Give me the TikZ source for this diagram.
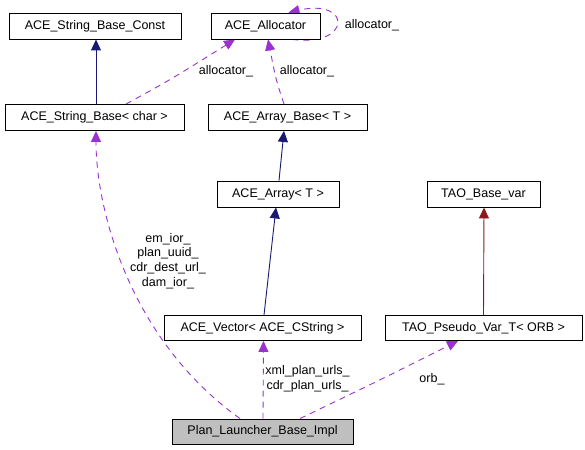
\documentclass[tikz,border=0pt]{standalone}
\usepackage{fontspec}
\setmainfont{Liberation Sans}
\usetikzlibrary{arrows.meta,backgrounds}
\definecolor{inh}{HTML}{191970}
\definecolor{use}{HTML}{9A32CD}
\definecolor{tinh}{HTML}{8B1A1A}
\definecolor{impl}{HTML}{BFBFBF}
\tikzset{
  box/.style={draw=black, fill=white, line width=0.9pt, minimum height=26, inner sep=0pt, font=\fontsize{12.5}{14}\selectfont},
  inhedge/.style={-{Triangle[length=11pt,width=10pt,fill=inh]}, draw=inh, line width=0.9pt},
  tinhedge/.style={-{Triangle[length=11pt,width=10pt,fill=tinh]}, draw=tinh, line width=0.9pt},
  useedge/.style={-{Triangle[length=11pt,width=10pt,fill=use]}, draw=use, line width=0.9pt, dash pattern=on 6pt off 5pt},
  lbl/.style={inner sep=0pt, align=center, font=\fontsize{12.5}{14.7}\selectfont}
}
\begin{document}
\begin{tikzpicture}[x=1pt,y=-1pt]
\useasboundingbox (0,0) rectangle (585,449);
\node[box, minimum width=172] (const) at (95,26) {ACE\_String\_Base\_Const};
\node[box, minimum width=109] (alloc) at (265.5,26) {ACE\_Allocator};
\node[box, minimum width=179] (sbase) at (94.5,117.5) {ACE\_String\_Base< char >};
\node[box, minimum width=159] (abase) at (287.5,117.5) {ACE\_Array\_Base< T >};
\node[box, minimum width=122] (array) at (278,194) {ACE\_Array< T >};
\node[box, minimum width=113] (basevar) at (483.5,194) {TAO\_Base\_var};
\node[box, minimum width=197, minimum height=25] (vector) at (262.5,328) {ACE\_Vector< ACE\_CString >};
\node[box, minimum width=197, minimum height=25] (pseudo) at (483.5,328) {TAO\_Pseudo\_Var\_T< ORB >};
\node[box, fill=impl, minimum width=181, minimum height=25] (impl) at (262.5,431.5) {Plan\_Launcher\_Base\_Impl};

\begin{scope}[on background layer]
% inheritance
\draw[inhedge] ([xshift=1.5]sbase.north) -- ([xshift=1]const.south);
\draw[inhedge] ([xshift=1]array.north) -- ([xshift=-3.5]abase.south);
\draw[inhedge] ([xshift=1.5]vector.north) -- ([xshift=-2]array.south);
\draw[tinhedge] ([xshift=0]pseudo.north) -- ([xshift=0.5]basevar.south);

% usage
\draw[useedge] ([xshift=31.5]sbase.north) .. controls (170,80) .. ([xshift=-30.5]alloc.south);
\draw[useedge] ([xshift=-3.5]abase.north) .. controls (276,80) .. ([xshift=2.5]alloc.south);
\draw[useedge] ([xshift=27]alloc.south) .. controls (352,47) and (352,-2) .. ([xshift=23]alloc.north);
\draw[useedge] ([xshift=-22.5]impl.north) .. controls (130,340) and (96,210) .. ([xshift=1.5]sbase.south);
\draw[useedge] ([xshift=0.5]impl.north) -- ([xshift=1]vector.south);
\draw[useedge] ([xshift=37.5]impl.north) .. controls (380,380) .. ([xshift=-25.5]pseudo.south);
\end{scope}

% labels
\node[lbl] (l1) at (226,71) {allocator\_};
\node[lbl] (l2) at (307,71) {allocator\_};
\node[lbl] (l3) at (372,25) {allocator\_};
\node[lbl] (l4) at (168,261) {em\_ior\_\\plan\_uuid\_\\cdr\_dest\_url\_\\dam\_ior\_};
\node[lbl] (l5) at (307.5,379) {xml\_plan\_urls\_\\cdr\_plan\_urls\_};
\node[lbl] (l6) at (432,379) {orb\_};
\end{tikzpicture}
\end{document}
